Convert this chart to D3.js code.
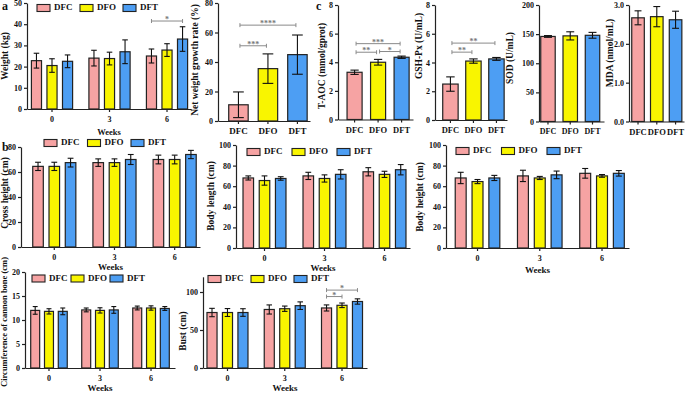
<!DOCTYPE html>
<html>
<head>
<meta charset="utf-8">
<script src="https://d3js.org/d3.v7.min.js"></script>
<style>
body{margin:0;background:#fff;}
text{font-family:"Liberation Serif","Times New Roman",serif;font-weight:bold;}
</style>
</head>
<body>
<svg id="fig" width="685" height="393"></svg>
<script>
const groups = ['DFC','DFO','DFT'];
const weeks = ['0','3','6'];
const colors = ['#f6a3a3','#f9f500','#4d9ef3'];

// grouped panels: rows = weeks, cols = DFC, DFO, DFT
const weightMean = [[22.8,20.5,22.5],[24,23.8,27],[25,27.8,33]];
const weightSd   = [[3.5,3.2,3],[3.7,3,5.6],[3.3,3,5.8]];
const crossMean  = [[64.5,64.5,67.5],[67.5,67.5,70],[70,70,74]];
const crossSd    = [[3.3,3.3,3.5],[3,3,4],[3.5,3.5,3.3]];
const lengthMean = [[68,65.5,67.5],[70,67.5,71.5],[74,71.5,76]];
const lengthSd   = [[2,4.5,1.7],[3.5,3.5,4.5],[4,3,5]];
const heightMean = [[68,64.5,68],[70,68,71],[72.5,70,72.5]];
const heightSd   = [[5.5,2,2.5],[5.5,1.5,3.7],[4.7,1.3,2.7]];
const cannonMean = [[12,11.8,11.8],[12.1,12,12.1],[12.5,12.5,12.4]];
const cannonSd   = [[0.8,0.55,0.7],[0.4,0.55,0.7],[0.4,0.45,0.4]];
const bustMean   = [[73,73,73],[77,78,82],[79,82.5,87.5]];
const bustSd     = [[5.5,5.2,5],[6,3.5,5],[4,3,3.5]];

// single panels: DFC, DFO, DFT
const growthMean = [11,35.5,45];
const growthSd   = [8.7,10,13.3];
const taocMean   = [3.3,4.0,4.35];
const taocSd     = [0.15,0.2,0.08];
const gshMean    = [2.5,4.1,4.25];
const gshSd      = [0.5,0.15,0.1];
const sodMean    = [146,147,148];
const sodSd      = [1.5,7,5];
const mdaMean    = [2.67,2.7,2.62];
const mdaSd      = [0.18,0.26,0.22];

// significance brackets
const weightSig = [{a:['6','DFC'], b:['6','DFT'], v:41.5, t:'*'}];
const bustSig = [{a:['6','DFC'], b:['6','DFO'], v:94, t:'*'},{a:['6','DFC'], b:['6','DFT'], v:102.5, t:'*'}];
const growthSig = [{a:'DFC', b:'DFO', v:51, t:'***'},{a:'DFC', b:'DFT', v:65, t:'****'}];
const taocSig = [{a:'DFC', b:'DFO', v:4.7, t:'**'},{a:'DFO', b:'DFT', v:4.75, t:'*'},{a:'DFC', b:'DFT', v:5.3, t:'***'}];
const gshSig = [{a:'DFC', b:'DFO', v:4.72, t:'**'},{a:'DFC', b:'DFT', v:5.35, t:'**'}];

const svg = d3.select('#fig');
const ink = '#222';

function styleAxis(a, fs){
  a.select('.domain').attr('stroke',ink).attr('stroke-width',1.2);
  a.selectAll('.tick line').attr('stroke',ink).attr('stroke-width',1.2);
  a.selectAll('.tick text').attr('font-size',fs).attr('fill','#111');
}

function yAxis(cfg, y){
  svg.append('g').attr('transform',`translate(${cfg.x0},0)`)
    .call(d3.axisLeft(y).tickValues(cfg.ticks).tickSize(3).tickPadding(2).tickSizeOuter(0))
    .call(a=>styleAxis(a,8));
  svg.append('text')
    .attr('transform',`translate(${cfg.lx},${cfg.ly}) rotate(-90)`)
    .attr('text-anchor','middle').attr('dominant-baseline','middle')
    .attr('font-size',cfg.lfs||9.5).attr('fill','#111')
    .text(cfg.label);
}

function bracket(x1, x2, yv, t){
  const g = svg.append('g').attr('stroke','#8a8a8a').attr('stroke-width',1);
  g.append('line').attr('x1',x1).attr('x2',x2).attr('y1',yv).attr('y2',yv);
  g.append('line').attr('x1',x1).attr('x2',x1).attr('y1',yv-2).attr('y2',yv+2);
  g.append('line').attr('x1',x2).attr('x2',x2).attr('y1',yv-2).attr('y2',yv+2);
  svg.append('text').attr('x',(x1+x2)/2).attr('y',yv+1).attr('text-anchor','middle')
    .attr('font-size',8).attr('fill','#777').text(t);
}

function bars(sel, data, y, yBot, xs, w){
  sel.selectAll('rect').data(data).join('rect')
    .attr('x',d=>xs(d)).attr('width',w)
    .attr('y',d=>y(d.m)).attr('height',d=>yBot - y(d.m))
    .attr('fill',d=>colors[d.gi]).attr('stroke',ink).attr('stroke-width',1.2);
  const cap = w*0.55;
  const eb = sel.selectAll('g.eb').data(data).join('g').attr('class','eb')
    .attr('stroke','#111').attr('stroke-width',1.1);
  eb.append('line').attr('x1',d=>xs(d)+w/2).attr('x2',d=>xs(d)+w/2)
    .attr('y1',d=>y(d.m+d.s)).attr('y2',d=>y(d.m-d.s));
  eb.append('line').attr('x1',d=>xs(d)+w/2-cap/2).attr('x2',d=>xs(d)+w/2+cap/2)
    .attr('y1',d=>y(d.m+d.s)).attr('y2',d=>y(d.m+d.s));
  eb.append('line').attr('x1',d=>xs(d)+w/2-cap/2).attr('x2',d=>xs(d)+w/2+cap/2)
    .attr('y1',d=>y(d.m-d.s)).attr('y2',d=>y(d.m-d.s));
}

function groupedPanel(cfg){
  const x = d3.scaleBand().domain(weeks).range([cfg.x0,cfg.x1])
    .paddingInner(0.2).paddingOuter(cfg.pad).align(cfg.align);
  const xi = d3.scaleBand().domain(groups).range([0,x.bandwidth()])
    .paddingInner(0.35).paddingOuter(0.155);
  const y = d3.scaleLinear().domain([0,cfg.max]).range([cfg.yBot,cfg.yTop]);
  const data = [];
  weeks.forEach((w,wi)=>groups.forEach((g,gi)=>data.push({w,g,gi,m:cfg.mean[wi][gi],s:cfg.sd[wi][gi]})));
  bars(svg.append('g'), data, y, cfg.yBot, d=>x(d.w)+xi(d.g), xi.bandwidth());
  yAxis(cfg, y);
  svg.append('g').attr('transform',`translate(0,${cfg.yBot})`)
    .call(d3.axisBottom(x).tickSize(3).tickPadding(4).tickSizeOuter(0))
    .call(a=>styleAxis(a,8));
  svg.append('text').attr('x',(cfg.x0+cfg.x1)/2).attr('y',cfg.wy)
    .attr('text-anchor','middle').attr('font-size',cfg.wfs||9).attr('fill','#111').text('Weeks');
  // legend
  const lg = svg.append('g').selectAll('g').data(groups).join('g')
    .attr('transform',(d,i)=>`translate(${cfg.legX + i*cfg.legStep},${cfg.legY})`);
  lg.append('rect').attr('x',0).attr('y',-3.5).attr('width',13).attr('height',7)
    .attr('fill',(d,i)=>colors[i]).attr('stroke',ink).attr('stroke-width',1.1);
  lg.append('text').attr('x',17).attr('y',0).attr('dominant-baseline','middle')
    .attr('font-size',9).attr('fill','#111').text(d=>d);
  (cfg.sig||[]).forEach(s=>{
    const cx = p=>x(p[0])+xi(p[1])+xi.bandwidth()/2;
    bracket(cx(s.a), cx(s.b), y(s.v), s.t);
  });
}

function singlePanel(cfg){
  const x = d3.scaleBand().domain(groups).range([cfg.x0,cfg.x1])
    .paddingInner(cfg.pin).paddingOuter(cfg.pad).align(cfg.align);
  const y = d3.scaleLinear().domain([0,cfg.max]).range([cfg.yBot,cfg.yTop]);
  const data = groups.map((g,gi)=>({g,gi,m:cfg.mean[gi],s:cfg.sd[gi]}));
  bars(svg.append('g'), data, y, cfg.yBot, d=>x(d.g), x.bandwidth());
  yAxis(cfg, y);
  svg.append('g').attr('transform',`translate(0,${cfg.yBot})`)
    .call(d3.axisBottom(x).tickSize(3).tickPadding(4).tickSizeOuter(0))
    .call(a=>styleAxis(a,cfg.cfs||8.5));
  (cfg.sig||[]).forEach(s=>{
    const inset = 1.5;
    bracket(x(s.a)+x.bandwidth()/2+inset, x(s.b)+x.bandwidth()/2-inset, y(s.v), s.t);
  });
}

// a: weight
groupedPanel({x0:27,x1:191,yTop:3,yBot:109,max:50,ticks:[0,10,20,30,40,50],pad:0.026,align:0.67,
  mean:weightMean,sd:weightSd,label:'Weight (kg)',lx:6,ly:56,wy:135,wfs:8.5,
  legX:37,legStep:43,legY:8,sig:weightSig});
singlePanel({x0:218,x1:310,yTop:3,yBot:121,max:80,ticks:[0,20,40,60,80],pin:0.34,pad:0.23,align:0.79,
  mean:growthMean,sd:growthSd,label:'Net weight growth rate (%)',lx:196,ly:60,lfs:9.5,sig:growthSig,cfs:9});
// c
singlePanel({x0:338,x1:413,yTop:5,yBot:119.5,max:8,ticks:[0,2,4,6,8],pin:0.36,pad:0.275,align:0.7,
  mean:taocMean,sd:taocSd,label:'T-AOC (mmol/gprot)',lx:323,ly:66,sig:taocSig});
singlePanel({x0:435,x1:507,yTop:5,yBot:120,max:8,ticks:[0,2,4,6,8],pin:0.33,pad:0.23,align:0.73,
  mean:gshMean,sd:gshSd,label:'GSH-Px (U/mL)',lx:420,ly:46,sig:gshSig});
singlePanel({x0:539,x1:604,yTop:5,yBot:121.5,max:200,ticks:[0,50,100,150,200],pin:0.35,pad:0.135,align:0.29,
  mean:sodMean,sd:sodSd,label:'SOD (U/mL)',lx:511,ly:58,cfs:8});
singlePanel({x0:629,x1:684,yTop:5,yBot:121.5,max:3,ticks:[0,1,2,3],pin:0.33,pad:0.13,align:0.56,
  mean:mdaMean,sd:mdaSd,label:'MDA (nmol/mL)',lx:611,ly:53,cfs:8.5});

// b
groupedPanel({x0:21,x1:200,yTop:147,yBot:247,max:80,ticks:[0,20,40,60,80],pad:0.087,align:0.88,
  mean:crossMean,sd:crossSd,label:'Cross height (cm)',lx:6,ly:193,wy:269.5,
  legX:44,legStep:43.5,legY:143});
groupedPanel({x0:236,x1:410,yTop:145,yBot:248,max:100,ticks:[0,20,40,60,80,100],pad:0.05,align:0.75,
  mean:lengthMean,sd:lengthSd,label:'Body length (cm)',lx:212,ly:196,wy:271,
  legX:247,legStep:45,legY:152});
groupedPanel({x0:446,x1:629,yTop:145,yBot:248,max:100,ticks:[0,20,40,60,80,100],pad:0.07,align:0.76,
  mean:heightMean,sd:heightSd,label:'Body height (cm)',lx:421,ly:197,wy:273,
  legX:456,legStep:45.5,legY:151});
groupedPanel({x0:25,x1:175,yTop:272,yBot:368,max:20,ticks:[0,5,10,15,20],pad:0.07,align:0.5,
  mean:cannonMean,sd:cannonSd,label:'Circumference of cannon bone (cm)',lx:5,ly:322,lfs:8.5,wy:391,
  legX:32,legStep:39,legY:278.5});
groupedPanel({x0:203,x1:367,yTop:276.8,yBot:368,max:120,ticks:[0,50,100],pad:0.032,align:0.43,
  mean:bustMean,sd:bustSd,label:'Bust (cm)',lx:184,ly:331,wy:391,
  legX:208,legStep:43,legY:279,sig:bustSig});

// panel letters
[['a',2,10],['b',2,151],['c',316,10]].forEach(([t,x,y])=>
  svg.append('text').attr('x',x).attr('y',y).attr('font-size',12).attr('fill','#111').text(t));
</script>
</body>
</html>
